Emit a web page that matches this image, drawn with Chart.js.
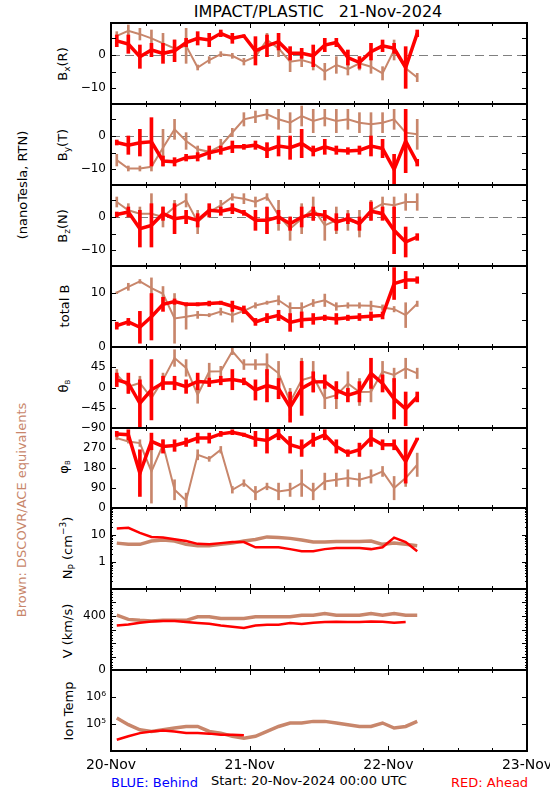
<!DOCTYPE html>
<html lang="en">
<head>
<meta charset="UTF-8">
<title>IMPACT/PLASTIC 21-Nov-2024</title>
<script src="https://cdn.jsdelivr.net/npm/chart.js"></script>
<style>
  body { margin: 0; background: #fff; }
  #page { position: relative; width: 550px; height: 800px; overflow: hidden;
          font-family: "DejaVu Sans", sans-serif; color: #000; }
  #page canvas { position: absolute; left: 0; }
  .txt { position: absolute; white-space: nowrap; line-height: 1; font-size: 13px; }
  .rot { transform: translate(-50%, -50%) rotate(-90deg); }
  .txt sub { font-size: 9px; vertical-align: -3px; }
  .txt sub.tiny { font-size: 7px; vertical-align: -2px; }
  .txt sup { font-size: 9px; vertical-align: 6px; }
</style>
</head>
<body>
<div id="page">
  <div class="txt" style="left:318px; top:4px; font-size:16px; transform:translateX(-50%);">IMPACT/PLASTIC&nbsp;&nbsp;&nbsp;21-Nov-2024</div>

  <div class="txt rot" style="left:22px; top:185px;">(nanoTesla, RTN)</div>
  <div class="txt rot" style="left:21px; top:510px; color:#c8866b;">Brown: DSCOVR/ACE equivalents</div>

  <div class="txt rot" style="left:64px; top:64px;">B<sub>x</sub>(R)</div>
  <div class="txt rot" style="left:64px; top:145px;">B<sub>y</sub>(T)</div>
  <div class="txt rot" style="left:64px; top:226px;">B<sub>z</sub>(N)</div>
  <div class="txt rot" style="left:64px; top:306px;">total B</div>
  <div class="txt rot" style="left:64px; top:386px;">θ<sub class="tiny">B</sub></div>
  <div class="txt rot" style="left:64px; top:467px;">φ<sub class="tiny">B</sub></div>
  <div class="txt rot" style="left:68px; top:548px;">N<sub>P</sub> (cm<sup>−3</sup>)</div>
  <div class="txt rot" style="left:67px; top:631px;">V (km/s)</div>
  <div class="txt rot" style="left:68px; top:711px;">Ion Temp</div>

  <div class="txt" style="left:111px; top:776px; color:#0000ff;">BLUE: Behind</div>
  <div class="txt" style="left:211px; top:774px;">Start: 20-Nov-2024 00:00 UTC</div>
  <div class="txt" style="left:451px; top:776px; color:#ff0000;">RED: Ahead</div>
</div>

<script>
// hours since 20-Nov-2024 00:00 UTC (2-hour bins)
const binHours = [1,3,5,7,9,11,13,15,17,19,21,23,25,27,29,31,33,35,37,39,41,43,45,47,49,51,53];
const dayTicks = [0, 24, 48, 72];
const dayLabels = ["20-Nov", "21-Nov", "22-Nov", "23-Nov"];

// Bx (R), nT  -- low / high of each bin
const bxRedLo = [2.5,0.5,-4,-0.5,-2.5,-2,2.5,3,2.5,5.5,3.5,5.5,-3,-0.5,1.5,-1.5,-1,-3.5,1,2.5,-3,-4,-1.5,1,0.5,-10,5.5];
const bxRedHi = [6,6,3,3.5,3.5,4.5,5,7,6.5,7.5,6.5,6,5.5,6,6.5,2.5,2,3,5,5,1.5,-0.5,3.5,4.5,3.5,2.5,7.5];
const bxBrnLo = [4.5,5.5,4.5,2.5,0.5,-0.5,-2.5,-4.5,-2.5,-0.5,-1,-3,-2,2.5,-0.5,-5,-3.5,-4.5,-7.5,-5.5,-6,-4.5,-5.5,-7.5,-1.5,-7.5,-8];
const bxBrnHi = [7,9,8,7.5,6.5,4.5,8,-3,-0.5,1,0.5,-1,1,6.5,4.5,1,0.5,-0.5,-2.5,-0.5,-2.5,-0.5,-1.5,-3.5,4.5,-0.5,-5.5];

// By (T), nT
const byRedLo = [-2.7,-5.5,-6,-9,-9,-9,-7.5,-7.5,-7,-5.5,-5,-4,-4,-6.5,-6,-7,-6.5,-6,-5.5,-5.5,-5.5,-5.5,-6,-6.5,-14.5,-11,-9];
const byRedHi = [-1.2,0,2,5.5,-6,-6.5,-5.5,-5,-3,-3,-1.5,-2.5,-1.5,-2,0,0,2,-3,-1,-3,-3.5,-3,0,-1,-5.5,8,-7];
const byBrnLo = [-9,-10.5,-10.5,-10.5,-9,-1,-4,-5,-5.5,-5,-0.2,3,4,5,2,1,3,1,3,1,2,1,0,1,2,-4,-4];
const byBrnHi = [-5.5,-9,-9,-8,2,5,1,-3,-4,-1,2.3,7,7.5,8,8,7,9,8,8,8,8,7,7,7,8,6,5];

// Bz (N), nT
const bzRedLo = [0,0,-9,-9,-1,-5,-2,-3,0,0.5,1,0.5,-4,-5,-2,-4,-3,-1,-1,-4,-2,-4,-1,-1,-11,-12,-7];
const bzRedHi = [1.5,3,2,4,3,4,2,1,4,3,4,2,2,3,2,0,3,3,2,1,1,0,4.5,3,3,-3,-5];
const bzBrnLo = [3,0,-1,-5,-3,1,3,-5,0,2,5,4,3,5,-4,-7,-5,-1,-7,-5,-4,-6,-1,2,1,2,2];
const bzBrnHi = [6,4,3,7,3,5,7,2,3,5,7,7,6,7,5,0,4,6,2,3,2,2,5,6,6,7,7];

// total B, nT
const btRedLo = [3.3,4,0.7,1.3,6.6,7.9,7.6,7.6,7.6,7.9,6.6,6.2,4,4.5,4.9,2.9,3.6,4.2,4.9,4.2,4.9,4.9,4.9,5.2,8.8,10.8,11.8];
const btRedHi = [4.6,5.3,6.6,9.9,9.2,8.9,8.2,8.2,8.5,8.5,8.5,7.6,5.3,6.2,6.8,6.2,6.5,6.2,5.9,6.2,5.9,6.2,6.5,6.5,14.7,14,13];
const btBrnLo = [9.9,10.5,11.8,9,8.5,0.7,3.3,5.3,5.6,5.9,4.6,6.2,7.2,7.9,7.8,6.2,6.2,7.5,7.5,6.8,7.2,7.2,6.8,6.8,6.5,3.6,7.5];
const btBrnHi = [10.2,11.8,12.5,12.8,11.2,9.9,7.9,6.6,6.2,7.2,7.2,7.2,8.2,8.5,9.5,8.2,8.2,8.8,9.8,8.2,8.2,8.2,8.5,7.8,7.5,8.2,8.5];

// theta B, degrees
const thRedLo = [2,-13,-87,-72,-5,-5,-13,-5,2,6,-5,6,-28,-32,-25,-77,-62,-10,-2,-25,-32,-32,-2,-10,-70,-85,-32];
const thRedHi = [32,32,17,62,25,25,17,32,21,25,40,21,17,40,20,-10,58,35,28,13,-2,13,65,28,20,-10,-10];
const thBrnLo = [17,-13,-5,-57,2,47,25,-35,17,25,73,40,40,28,5,-62,-32,-10,-47,-47,-17,-40,-32,13,13,20,20];
const thBrnHi = [40,17,25,10,32,84,62,2,54,47,88,62,62,75,58,-2,65,58,-2,13,35,20,13,58,43,65,43];

// phi B, degrees
const phRedLo = [322,307,52,262,247,255,277,292,292,322,330,322,277,247,307,247,232,277,307,247,232,232,277,262,262,112,307];
const phRedHi = [345,352,262,337,307,307,315,337,337,345,352,337,345,360,360,322,307,337,352,307,262,292,352,307,307,307,315];
const phBrnLo = [307,292,277,22,262,37,0,217,210,247,67,97,37,82,37,52,52,37,82,97,97,97,112,142,37,97,142];
const phBrnHi = [322,307,307,307,307,127,67,262,232,277,97,127,97,112,112,112,172,112,157,157,172,157,172,187,142,172,247];

// proton density, cm^-3
const npRed = [17.5,18.5,12,8.5,8,7,6,4.7,4.5,5,5.5,5.5,3.5,3.5,3.5,3,2.5,2.5,3,3.3,3.3,3.3,3,3.5,8,5.5,2.5];
const npBrn = [5,4.5,4.5,6,6.5,6,4.5,4,4,4.5,5,6,6.8,8.5,8,7.5,6.5,5.5,5.5,5.8,5.8,5.8,6,4.5,5,4.5,4];

// bulk speed, km/s
const vRed = [329,337,350,360,363,363,355,348,342,329,321,311,329,336,336,348,340,350,355,357,355,355,360,357,350,355,null];
const vBrn = [406,375,368,363,368,368,368,394,394,381,381,381,394,394,394,394,406,406,419,406,406,406,419,406,419,406,406];

// ion temperature, K
const tRed = [2.6e4,3.5e4,4.6e4,5.3e4,5.8e4,5.3e4,4.6e4,4.6e4,4.4e4,4e4,4e4,3.8e4,null,null,null,null,null,null,null,null,null,null,null,null,null,null,null];
const tBrn = [1.67e5,9.4e4,6.1e4,5.3e4,6.1e4,7.1e4,8.1e4,8.1e4,5.3e4,4.6e4,3.5e4,3e4,3.5e4,5.3e4,8.1e4,1.09e5,1.09e5,1.25e5,1.25e5,1.09e5,9.4e4,8.1e4,8.1e4,1.09e5,7.1e4,8.1e4,1.25e5];

const RED = "#ff0000";
const BROWN = "#c8866b";

const minus = v => String(v).replace("-", "\u2212");

function rangeSets(rLo, rHi, bLo, bHi) {
    const bar = (lo, hi) => binHours.map((h, i) => ({ x: h, y: [lo[i], hi[i]] }));
    const mid = (lo, hi) => binHours.map((h, i) => ({ x: h, y: (lo[i] + hi[i]) / 2 }));
    return [
        { type: "line", data: mid(rLo, rHi), borderColor: RED, borderWidth: 3.5, pointRadius: 0 },
        { type: "bar", data: bar(rLo, rHi), backgroundColor: RED, barThickness: 3, grouped: false },
        { type: "line", data: mid(bLo, bHi), borderColor: BROWN, borderWidth: 2, pointRadius: 0 },
        { type: "bar", data: bar(bLo, bHi), backgroundColor: BROWN, barThickness: 2, grouped: false }
    ];
}

function lineSets(red, brn) {
    const pts = arr => binHours.map((h, i) => ({ x: h, y: arr[i] }));
    return [
        { type: "line", data: pts(red), borderColor: RED, borderWidth: 2.5, pointRadius: 0, spanGaps: false },
        { type: "line", data: pts(brn), borderColor: BROWN, borderWidth: 3.5, pointRadius: 0 }
    ];
}

const logMinor = [0.2,0.3,0.4,0.5,0.6,0.7,0.8,0.9,2,3,4,5,6,7,8,9,20,30,40,50,60,70,80,90];
const vMinor = [];
for (let v = 20; v < 600; v += 20) if (v % 100) vMinor.push(v);

const panels = [
    { top: 23,  h: 81, sets: rangeSets(bxRedLo, bxRedHi, bxBrnLo, bxBrnHi), min: -14.7, max: 9.6,
      labels: [0, -10], major: [5, 0, -5, -10], minor: [], zero: true, fmt: minus },
    { top: 104, h: 81, sets: rangeSets(byRedLo, byRedHi, byBrnLo, byBrnHi), min: -14.7, max: 9.6,
      labels: [0, -10], major: [5, 0, -5, -10], minor: [], zero: true, fmt: minus },
    { top: 185, h: 81, sets: rangeSets(bzRedLo, bzRedHi, bzBrnLo, bzBrnHi), min: -14.7, max: 9.6,
      labels: [0, -10], major: [5, 0, -5, -10], minor: [], zero: true, fmt: minus },
    { top: 266, h: 81, sets: rangeSets(btRedLo, btRedHi, btBrnLo, btBrnHi), min: 0, max: 15,
      labels: [10, 0], major: [5, 10], minor: [], fmt: minus },
    { top: 347, h: 81, sets: rangeSets(thRedLo, thRedHi, thBrnLo, thBrnHi), min: -90, max: 90,
      labels: [45, 0, -45, -90], major: [45, 0, -45], minor: [], fmt: minus },
    { top: 428, h: 80, sets: rangeSets(phRedLo, phRedHi, phBrnLo, phBrnHi), min: 0, max: 360,
      labels: [270, 180, 90, 0], major: [90, 180, 270], minor: [], fmt: minus },
    { top: 508, h: 81, sets: lineSets(npRed, npBrn), min: 0.1, max: 100, log: true,
      labels: [10, 1], major: [1, 10], minor: logMinor, fmt: v => String(v) },
    { top: 589, h: 81, sets: lineSets(vRed, vBrn), min: 0, max: 600,
      labels: [400, 0], major: [100, 200, 300, 400, 500], minor: vMinor, fmt: minus },
    { top: 670, h: 81, sets: lineSets(tRed, tBrn), min: 1e4, max: 1e7, log: true,
      labels: [1e6, 1e5], major: [1e5, 1e6], minor: [], fmt: v => (v === 1e6 ? "10\u2076" : "10\u2075") }
];

// IDL-like frame: inward ticks on all four sides, dashed zero line
const idlAxes = {
    id: "idlAxes",
    beforeDatasetsDraw(chart, args, opts) {
        if (!opts.zero) return;
        const { ctx, chartArea: a } = chart;
        const py = Math.round(chart.scales.y.getPixelForValue(0)) + 0.5;
        ctx.save();
        ctx.strokeStyle = "#808080";
        ctx.lineWidth = 1;
        ctx.setLineDash([9, 5]);
        ctx.beginPath();
        ctx.moveTo(a.left, py);
        ctx.lineTo(a.right, py);
        ctx.stroke();
        ctx.restore();
    },
    afterDraw(chart, args, opts) {
        const { ctx, chartArea: a } = chart;
        const x = chart.scales.x, y = chart.scales.y;
        ctx.save();
        ctx.strokeStyle = "#000";
        ctx.lineWidth = 1;
        ctx.beginPath();
        for (let h = 6; h < 72; h += 6) {
            const px = Math.round(x.getPixelForValue(h)) + 0.5;
            const len = h % 24 === 0 ? 5 : 3;
            ctx.moveTo(px, a.top); ctx.lineTo(px, a.top + len);
            ctx.moveTo(px, a.bottom); ctx.lineTo(px, a.bottom - len);
        }
        const yTick = (v, len) => {
            const py = Math.round(y.getPixelForValue(v)) + 0.5;
            ctx.moveTo(a.left, py); ctx.lineTo(a.left + len, py);
            ctx.moveTo(a.right, py); ctx.lineTo(a.right - len, py);
        };
        opts.major.forEach(v => yTick(v, 5));
        opts.minor.forEach(v => yTick(v, 2));
        ctx.stroke();
        ctx.lineWidth = 2;
        ctx.strokeRect(a.left, a.top, a.right - a.left, a.bottom - a.top);
        ctx.restore();
    }
};

const page = document.getElementById("page");
panels.forEach((p, idx) => {
    const last = idx === panels.length - 1;
    const canvas = document.createElement("canvas");
    const height = p.h + 12 + (last ? 28 : 12);
    canvas.width = 550;
    canvas.height = height;
    canvas.style.top = (p.top - 12) + "px";
    canvas.style.width = "550px";
    canvas.style.height = height + "px";
    page.appendChild(canvas);

    new Chart(canvas.getContext("2d"), {
        type: "bar",
        data: { datasets: p.sets },
        options: {
            responsive: false,
            animation: false,
            devicePixelRatio: 1,
            layout: { padding: { left: 0, right: 23, top: 12, bottom: last ? 0 : 12 } },
            plugins: {
                legend: { display: false },
                tooltip: { enabled: false },
                idlAxes: { zero: !!p.zero, major: p.major, minor: p.minor }
            },
            scales: {
                x: {
                    type: "linear", min: 0, max: 72, offset: false, display: last, bounds: "data",
                    grid: { display: false, drawTicks: false },
                    border: { display: false },
                    afterBuildTicks: s => { s.ticks = dayTicks.map(v => ({ value: v })); },
                    afterFit: s => {
                        if (!last) return;
                        s.height = 28; s.paddingLeft = 0; s.paddingRight = 0;
                    },
                    ticks: {
                        callback: v => dayLabels[dayTicks.indexOf(v)],
                        maxRotation: 0, minRotation: 0, autoSkip: false, padding: 6,
                        color: "#000", font: { family: "DejaVu Sans", size: 14 }
                    }
                },
                y: {
                    type: p.log ? "logarithmic" : "linear", min: p.min, max: p.max, bounds: "data",
                    grid: { display: false, drawTicks: false },
                    border: { display: false },
                    afterBuildTicks: s => { s.ticks = p.labels.map(v => ({ value: v })); },
                    afterFit: s => { s.width = 111; s.paddingTop = 0; s.paddingBottom = 0; },
                    ticks: {
                        callback: v => p.fmt(v),
                        autoSkip: false, padding: 5,
                        color: "#000", font: { family: "DejaVu Sans", size: 12 }
                    }
                }
            }
        },
        plugins: [idlAxes]
    });
});
</script>
</body>
</html>
